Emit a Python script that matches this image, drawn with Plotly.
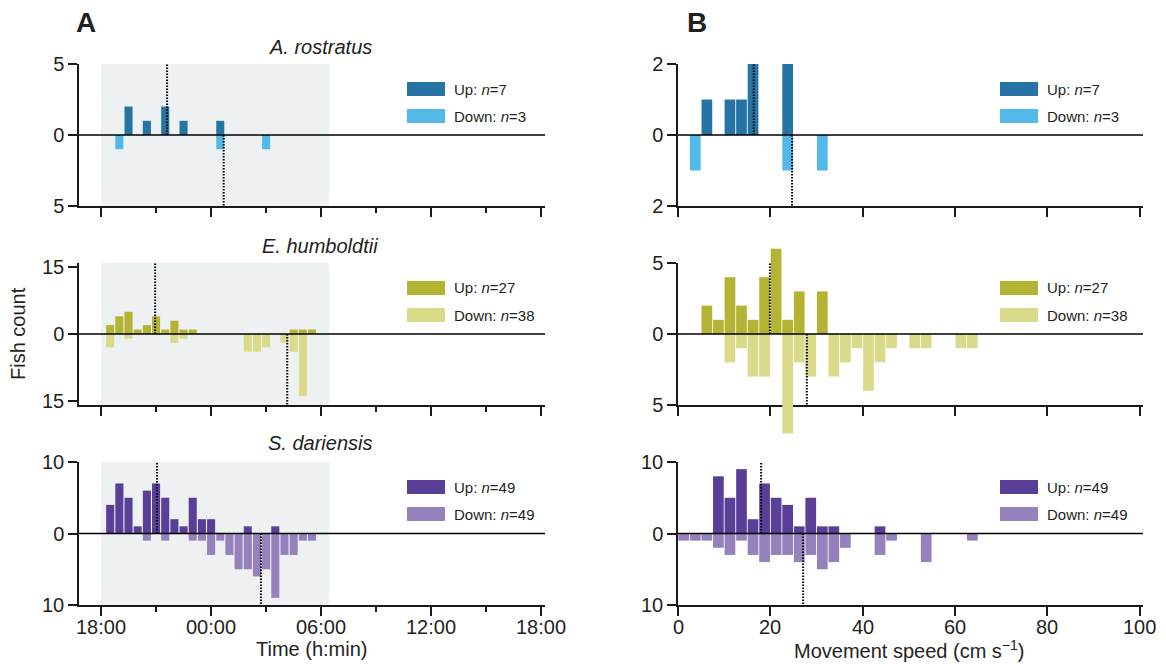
import plotly.graph_objects as go

# page is shown in a 1166x664 window; the html body adds an 8px margin
VIEW_W, VIEW_H, OFF = 1166, 664, 8
W, H = VIEW_W - OFF, VIEW_H - OFF

# ---------------- data ----------------
# Panel A: 30-min time bins (bin centre, clock time)
time_bins = ["18:30", "19:00", "19:30", "20:00", "20:30", "21:00", "21:30", "22:00",
             "22:30", "23:00", "23:30", "00:00", "00:30", "01:00", "01:30", "02:00",
             "02:30", "03:00", "03:30", "04:00", "04:30", "05:00", "05:30"]
rostratus_time_up = [0, 0, 2, 0, 1, 0, 2, 0, 1, 0, 0, 0, 1, 0, 0, 0, 0, 0, 0, 0, 0, 0, 0]
rostratus_time_down = [0, 1, 0, 0, 0, 0, 0, 0, 0, 0, 0, 0, 1, 0, 0, 0, 0, 1, 0, 0, 0, 0, 0]
humboldtii_time_up = [2, 4, 5, 1, 2, 4, 1, 3, 1, 1, 0, 0, 0, 0, 0, 0, 0, 0, 0, 0, 1, 1, 1]
humboldtii_time_down = [3, 0, 1, 0, 0, 0, 0, 2, 1, 0, 0, 0, 0, 0, 0, 4, 4, 3, 0, 2, 4, 14, 0]
dariensis_time_up = [4, 7, 5, 1, 6, 7, 5, 2, 1, 5, 2, 2, 0, 0, 0, 1, 0, 0, 1, 0, 0, 0, 0]
dariensis_time_down = [0, 0, 0, 0, 1, 0, 1, 0, 0, 1, 1, 3, 1, 3, 5, 5, 6, 5, 9, 3, 3, 1, 1]

# median passage times (up, down)
time_medians = [("21:36", "00:41"), ("20:57", "04:09"), ("21:03", "02:43")]
night_start, night_end = "18:00", "06:26"
time_ticks = ["18:00", "00:00", "06:00", "12:00", "18:00"]
time_tick_pos = [0, 6, 12, 18, 24]          # hours after 18:00

# Panel B: 2.5 cm/s speed bins (bin centres)
speed_bins = [1.25, 3.75, 6.25, 8.75, 11.25, 13.75, 16.25, 18.75, 21.25, 23.75, 26.25,
              28.75, 31.25, 33.75, 36.25, 38.75, 41.25, 43.75, 46.25, 48.75, 51.25,
              53.75, 56.25, 58.75, 61.25, 63.75]
rostratus_speed_up = [0, 0, 1, 0, 1, 1, 2, 0, 0, 2, 0, 0, 0, 0, 0, 0, 0, 0, 0, 0, 0, 0, 0, 0, 0, 0]
rostratus_speed_down = [0, 1, 0, 0, 0, 0, 0, 0, 0, 1, 0, 0, 1, 0, 0, 0, 0, 0, 0, 0, 0, 0, 0, 0, 0, 0]
humboldtii_speed_up = [0, 0, 2, 1, 4, 2, 1, 4, 6, 1, 3, 0, 3, 0, 0, 0, 0, 0, 0, 0, 0, 0, 0, 0, 0, 0]
humboldtii_speed_down = [0, 0, 0, 0, 2, 1, 3, 3, 0, 7, 2, 3, 0, 3, 2, 1, 4, 2, 1, 0, 1, 1, 0, 0, 1, 1]
dariensis_speed_up = [0, 0, 0, 8, 5, 9, 2, 7, 5, 4, 1, 5, 1, 1, 0, 0, 0, 1, 0, 0, 0, 0, 0, 0, 0, 0]
dariensis_speed_down = [1, 1, 1, 2, 3, 1, 3, 4, 3, 3, 4, 3, 5, 4, 2, 0, 0, 3, 1, 0, 0, 4, 0, 0, 0, 1]
speed_medians = [(16.4, 24.7), (19.9, 27.9), (18.0, 27.1)]
speed_ticks = [0, 20, 40, 60, 80, 100]

species = ["A. rostratus", "E. humboldtii", "S. dariensis"]
n_up = [7, 27, 49]
n_down = [3, 38, 49]
up_colors = ["#2674A3", "#B3B434", "#5A3F98"]
down_colors = ["#52B9E9", "#D9DB8A", "#9581BC"]

# ---------------- helpers ----------------
def hrs(s):
    h, m = map(int, s.split(":"))
    t = h + m / 60.0
    return t - 18 if t >= 18 else t + 6

def yf(px):
    return 1 - (px - OFF) / H

def xf(px):
    return (px - OFF) / W

FONT = "Liberation Sans, Arial, Helvetica, sans-serif"
TXT = "#231F20"
AX = "#1A1A1A"

A_X = (79, 545)
B_X = (678, 1143)
ROWS = [(64, 206), (263, 405), (462, 605)]
A_YR = [5, 16, 10]
A_YT = [5, 15, 10]
B_YR = [2, 5, 10]
MIDB_BARS = (245, 437)
XLABEL_Y = 627

tx = [hrs(t) for t in time_bins]

fig = go.Figure()
layout = dict(
    width=W, height=H, margin=dict(l=0, r=0, t=0, b=0, autoexpand=False),
    paper_bgcolor="white", plot_bgcolor="rgba(0,0,0,0)",
    showlegend=False, barmode="overlay",
    font=dict(family=FONT, size=20, color=TXT),
)

shapes = []
annotations = []

time_data = [(rostratus_time_up, rostratus_time_down),
             (humboldtii_time_up, humboldtii_time_down),
             (dariensis_time_up, dariensis_time_down)]
speed_data = [(rostratus_speed_up, rostratus_speed_down),
              (humboldtii_speed_up, humboldtii_speed_down),
              (dariensis_speed_up, dariensis_speed_down)]

DOT = dict(color="black", width=2, dash="1.5px,1.5px")

def axis_common():
    return dict(showline=True, linecolor=AX, linewidth=1.5, ticks="outside",
                ticklen=9, tickwidth=1.5, tickcolor=AX, showgrid=False, zeroline=False,
                automargin=False,
                tickfont=dict(size=20, color=TXT, family=FONT), fixedrange=True)

def text(t, x, y, size=20, xref="paper", **kw):
    d = dict(text=t, x=x, y=y, xref=xref, yref="paper", xanchor="center", yanchor="middle",
             showarrow=False, font=dict(size=size, color=TXT, family=FONT))
    d.update(kw)
    return d

for r in range(3):
    top, bot = ROWS[r]
    # ---------- panel A ----------
    ia = r + 1
    xa = "x" if ia == 1 else f"x{ia}"
    ya = "y" if ia == 1 else f"y{ia}"
    xk = "xaxis" if ia == 1 else f"xaxis{ia}"
    yk = "yaxis" if ia == 1 else f"yaxis{ia}"
    up, down = time_data[r]
    fig.add_trace(go.Bar(x=tx, y=up, width=0.44, marker=dict(color=up_colors[r], line=dict(width=0)),
                         xaxis=xa, yaxis=ya))
    fig.add_trace(go.Bar(x=tx, y=[-v for v in down], width=0.44,
                         marker=dict(color=down_colors[r], line=dict(width=0)), xaxis=xa, yaxis=ya))
    xdict = axis_common()
    xdict.update(domain=[xf(A_X[0]), xf(A_X[1])], range=[-1.2, 24.2], anchor=ya,
                 tickmode="array", tickvals=time_tick_pos, showticklabels=False,
                 minor=dict(tickvals=[3, 9, 15, 21], ticks="outside", ticklen=5, tickwidth=1.5, tickcolor=AX))
    ydict = axis_common()
    ydict.update(domain=[yf(bot), yf(top)], range=[-A_YR[r], A_YR[r]], anchor=xa,
                 tickmode="array", tickvals=[-A_YT[r], 0, A_YT[r]],
                 ticktext=[str(A_YT[r]), "0", str(A_YT[r])])
    layout[xk] = xdict
    layout[yk] = ydict
    if r == 2:
        for v, lab in zip(time_tick_pos, time_ticks):
            annotations.append(text(lab, v, yf(XLABEL_Y), xref=xa))
    # night shading
    shapes.append(dict(type="rect", xref=xa, yref=f"{ya} domain", x0=hrs(night_start), x1=hrs(night_end),
                       y0=0, y1=1, fillcolor="#EDF1F2", line=dict(width=0), layer="below"))
    # zero line
    shapes.append(dict(type="line", xref=f"{xa} domain", yref=ya, x0=0, x1=1, y0=0, y1=0,
                       line=dict(color="black", width=1.4)))
    mu, md = time_medians[r]
    shapes.append(dict(type="line", xref=xa, yref=ya, x0=hrs(mu), x1=hrs(mu), y0=0, y1=A_YR[r], line=DOT))
    shapes.append(dict(type="line", xref=xa, yref=ya, x0=hrs(md), x1=hrs(md), y0=0, y1=-A_YR[r], line=DOT))

    # ---------- panel B ----------
    ib = r + 4
    xb = f"x{ib}"
    yb = f"y{ib}"
    up, down = speed_data[r]
    ybar = yb
    if r == 1:
        # hidden axis with the same scale so tall bars can extend past the axis limits
        scale = (bot - top) / (2 * B_YR[r])
        lo = -B_YR[r] - (MIDB_BARS[1] - bot) / scale
        hi = B_YR[r] + (top - MIDB_BARS[0]) / scale
        layout["yaxis7"] = dict(domain=[yf(MIDB_BARS[1]), yf(MIDB_BARS[0])], range=[lo, hi],
                                anchor=xb, visible=False, fixedrange=True, automargin=False)
        ybar = "y7"
    fig.add_trace(go.Bar(x=speed_bins, y=up, width=2.32, marker=dict(color=up_colors[r], line=dict(width=0)),
                         xaxis=xb, yaxis=ybar))
    fig.add_trace(go.Bar(x=speed_bins, y=[-v for v in down], width=2.32,
                         marker=dict(color=down_colors[r], line=dict(width=0)), xaxis=xb, yaxis=ybar))
    xdict = axis_common()
    xdict.update(domain=[xf(B_X[0]), xf(B_X[1])], range=[0, 100.7], anchor=yb,
                 tickmode="array", tickvals=speed_ticks, showticklabels=False)
    ydict = axis_common()
    ydict.update(domain=[yf(bot), yf(top)], range=[-B_YR[r], B_YR[r]], anchor=xb,
                 tickmode="array", tickvals=[-B_YR[r], 0, B_YR[r]],
                 ticktext=[str(B_YR[r]), "0", str(B_YR[r])])
    layout[f"xaxis{ib}"] = xdict
    layout[f"yaxis{ib}"] = ydict
    if r == 2:
        for v in speed_ticks:
            annotations.append(text(str(v), v, yf(XLABEL_Y), xref=xb))
    shapes.append(dict(type="line", xref=f"{xb} domain", yref=yb, x0=0, x1=1, y0=0, y1=0,
                       line=dict(color="black", width=1.4)))
    su, sd = speed_medians[r]
    shapes.append(dict(type="line", xref=xb, yref=yb, x0=su, x1=su, y0=0, y1=B_YR[r], line=DOT))
    shapes.append(dict(type="line", xref=xb, yref=yb, x0=sd, x1=sd, y0=0, y1=-B_YR[r], line=DOT))

    # ---------- legends ----------
    leg_rows = [(top + 25, up_colors[r], f"Up: <i>n</i>={n_up[r]}"),
                (top + 52, down_colors[r], f"Down: <i>n</i>={n_down[r]}")]
    for lx in (407, 1000):
        for cy, col, label in leg_rows:
            shapes.append(dict(type="rect", xref="paper", yref="paper",
                               x0=xf(lx), x1=xf(lx + 38), y0=yf(cy + 7), y1=yf(cy - 7),
                               fillcolor=col, line=dict(width=0)))
            annotations.append(text(label, xf(lx + 45), yf(cy), size=15, xanchor="left"))

# titles
title_y = [47, 246, 443]
for r in range(3):
    annotations.append(text(f"<i>{species[r]}</i>", xf(320), yf(title_y[r])))
annotations.append(text("<b>A</b>", xf(86), yf(22), size=28))
annotations.append(text("<b>B</b>", xf(697), yf(22), size=28))
annotations.append(text("Time (h:min)", xf(311), yf(649)))
annotations.append(text("Movement speed (cm s<sup>\u22121</sup>)", xf(909), yf(649)))
annotations.append(text("Fish count", xf(18), yf(334), textangle=-90))

layout["shapes"] = shapes
layout["annotations"] = annotations
fig.update_layout(**layout)
fig.write_html("out.html")
